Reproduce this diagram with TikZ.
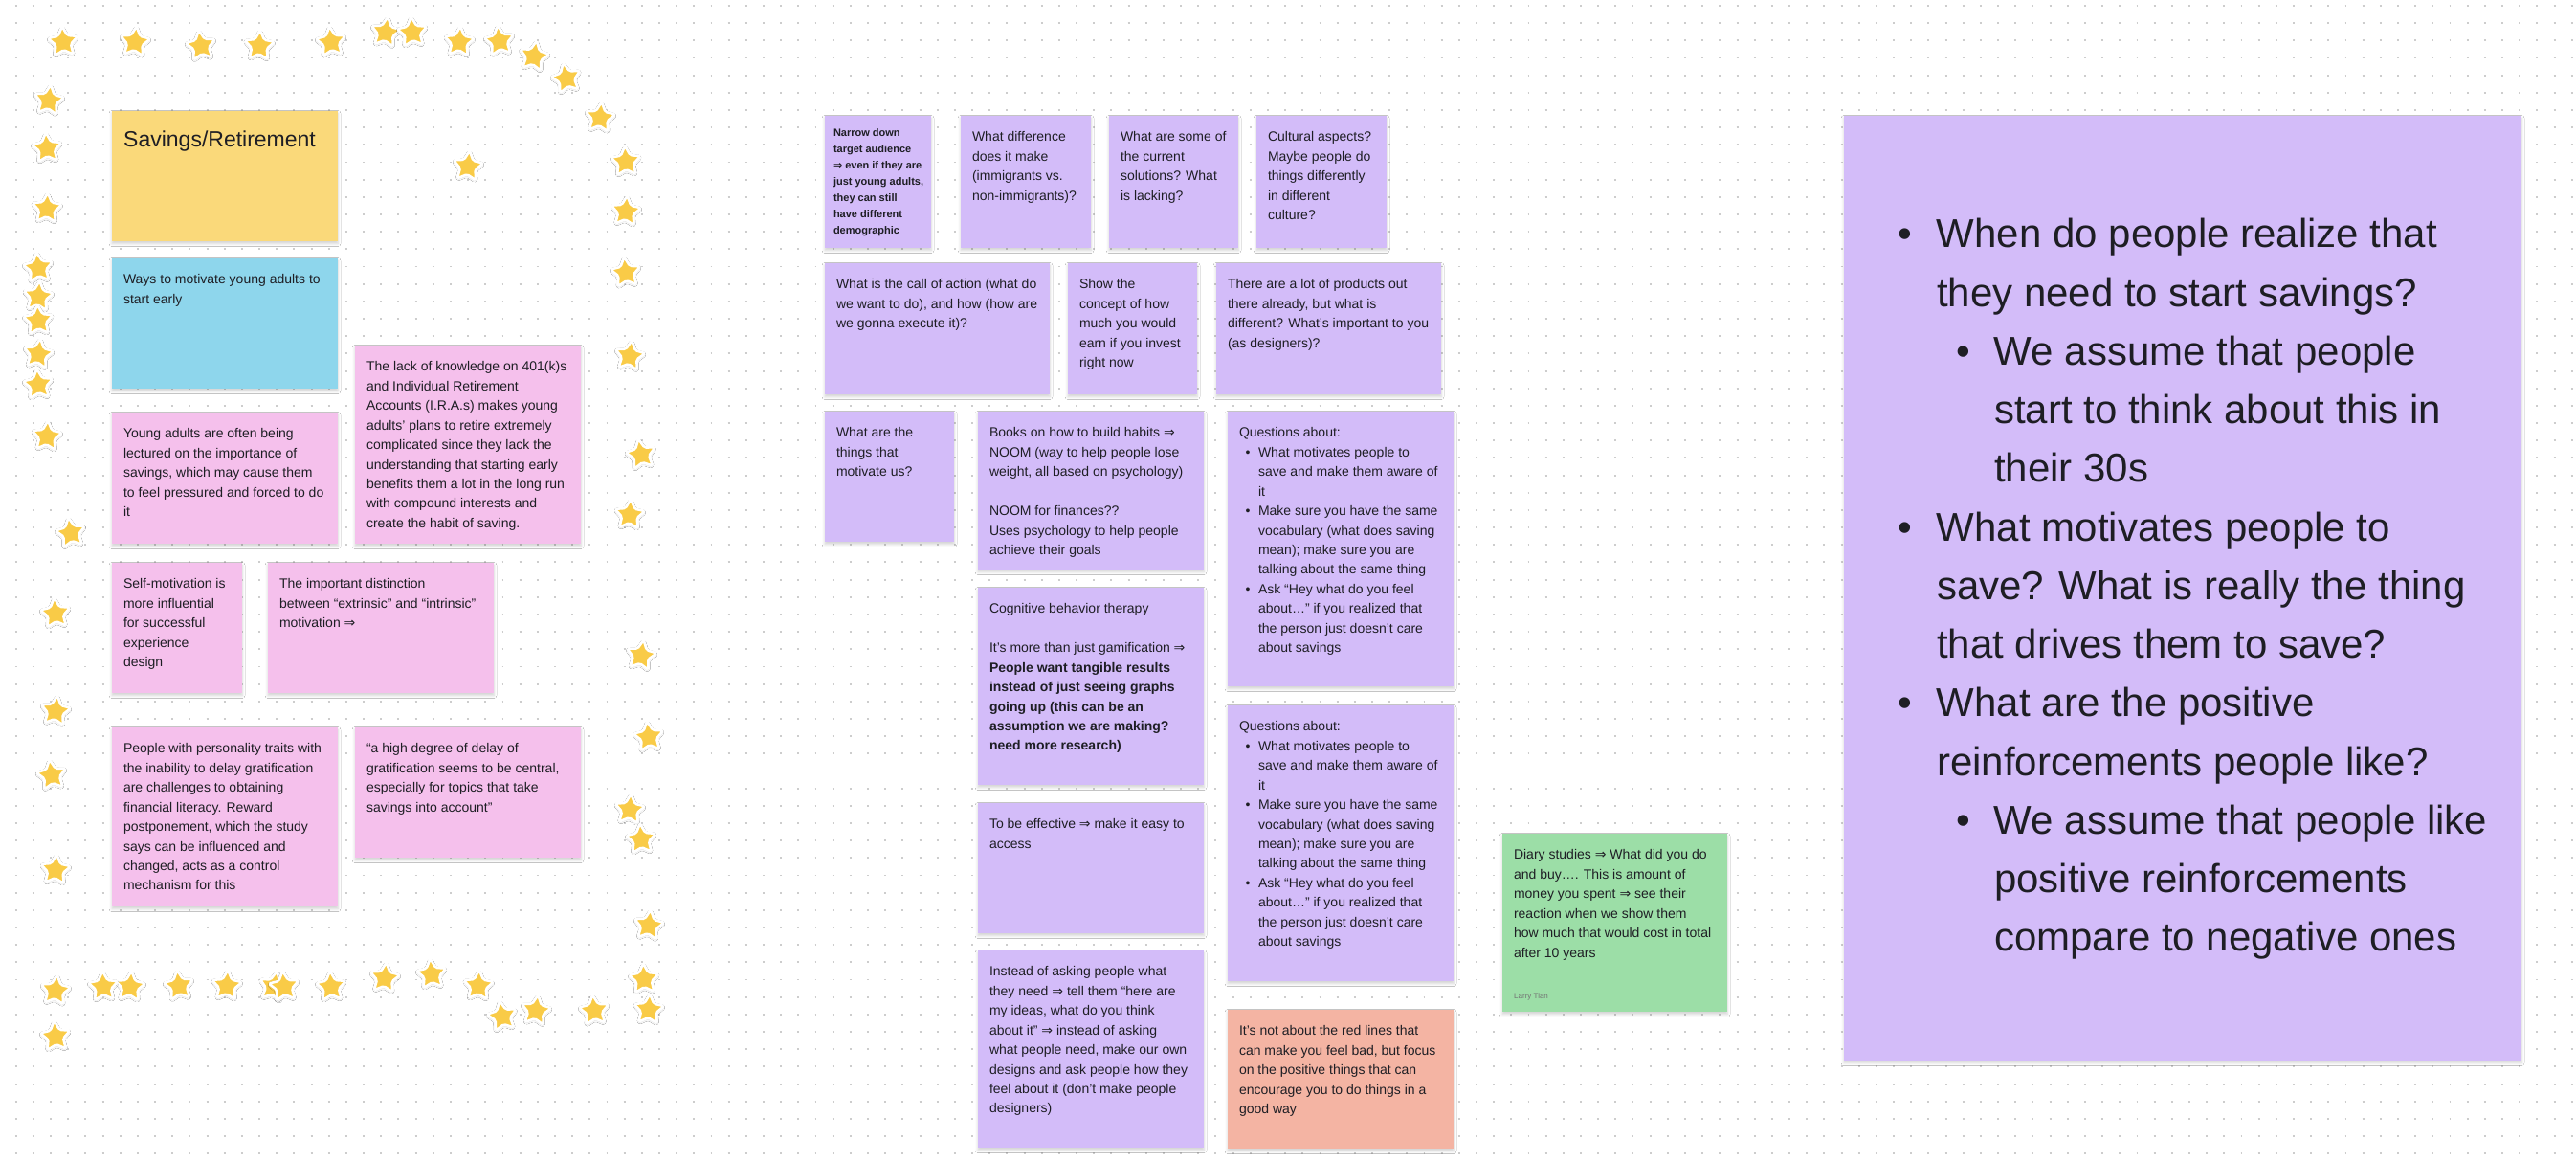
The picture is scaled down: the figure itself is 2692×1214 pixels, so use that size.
\documentclass[tikz,border=0pt]{standalone}
\usepackage{fontspec}
\setmainfont{Liberation Sans}
\newfontfamily\symfont{DejaVu Sans}
\usetikzlibrary{shapes.geometric,shadows.blur}
\definecolor{ink}{HTML}{1E1E24}
\definecolor{noteyellow}{HTML}{FAD97A}
\definecolor{noteblue}{HTML}{8ED6EC}
\definecolor{notepink}{HTML}{F5C0EC}
\definecolor{notepurple}{HTML}{D3BCF9}
\definecolor{notegreen}{HTML}{9CDEA7}
\definecolor{notesalmon}{HTML}{F4B4A3}
\definecolor{stargold}{HTML}{F9CB47}
\definecolor{griddot}{HTML}{CDCDCD}
\newcommand\thenarrow{{\symfont\char"21D2}}
\newcommand\qb{\makebox[20pt][l]{\hspace*{6.5pt}•}}
\newcommand\qc{\hspace*{20pt}}
\newcommand\bigbul{\makebox[97pt][l]{\hspace*{56.6pt}•}}
\newcommand\bigcont{\hspace*{97pt}}
\newcommand\subbul{\makebox[157pt][l]{\hspace*{117.6pt}•}}
\newcommand\subcont{\hspace*{157pt}}
\tikzset{
  notebox/.style={rectangle, inner sep=0pt, outer sep=0pt, anchor=north west,
    blur shadow={shadow xshift=0pt, shadow yshift=-2.5pt, shadow blur radius=3pt, shadow opacity=18}},
  notetext/.style={inner sep=0pt, outer sep=0pt, anchor=north west, align=left, text=ink,
    font=\fontsize{14}{20.45}\selectfont},
  starnode/.style={star, star points=5, star point ratio=2.0, minimum size=33pt, inner sep=0pt,
    fill=stargold, draw=white, line width=2.6pt, rounded corners=1.8pt,
    blur shadow={shadow xshift=0pt, shadow yshift=-1pt, shadow blur radius=2pt, shadow opacity=22}},
}
\newcommand\sticky[6]{\node[notebox, fill=#6, minimum width=#4pt, minimum height=#5pt] (#1) at (#2,#3) {};}
\newcommand\stickytext[2]{\node[notetext] (#1-txt) at ([xshift=12pt,yshift=-12.5pt]#1.north west) {\strut #2};}

\begin{document}
\begin{tikzpicture}[x=1pt,y=-1pt]
\useasboundingbox (0,0) rectangle (2692,1214);
\fill[white] (0,0) rectangle (2692,1214);
% dotted grid
\foreach \k in {0,...,66} {
  \draw[griddot, line width=1.9pt, dash pattern=on 1.9pt off 16.27pt] (15.75,{6+18.17*\k}) -- (2692,{6+18.17*\k});
}

% ---------- stars ----------
\foreach \x/\y/\r [count=\i] in {
 66/44/4, 141/44/-6, 210/48/8, 271/48/-3, 346/44/6, 403/34/-8, 431/34/5, 480/44/-4, 522/43/7,
 558/59/-10, 592/82/12, 627/123/-6, 654/169/3, 654/221/-5, 654/285/6, 658/372/-8, 670/475/10, 658/538/-4,
 51/105/-7, 49/155/4, 49/218/-3, 40/280/6, 40/310/-5, 40/335/3, 40/370/-8, 40/402/5, 49/456/-4, 74/557/9,
 489/174/-6,
 58/641/5, 58/743/-7, 54/810/8, 58/909/-4,
 670/685/-9, 678/770/6, 658/846/-5, 670/877/4, 678/967/-7, 673/1023/3, 678/1055/-4,
 621/1056/6, 560/1056/-8, 525/1062/10, 500/1030/-3, 451/1018/5, 402/1022/-6,
 346/1031/4, 286/1031/-12, 297/1031/6, 237/1030/-4, 187/1030/7, 136/1031/-5, 108/1031/3, 58/1035/-6, 58/1083/5}
{
  \node[starnode, rotate=\r] (star\i) at (\x,\y) {};
}

% ---------- left cluster ----------
\sticky{yellow}{117}{116}{236}{136}{noteyellow}
\node[inner sep=0pt, anchor=north west, text=ink, font=\fontsize{23}{28}\selectfont, align=left]
  (yellow-txt) at ([xshift=12pt,yshift=-17.4pt]yellow.north west) {\strut Savings/Retirement};

\sticky{blue}{117}{270}{236}{136}{noteblue}
\stickytext{blue}{Ways to motivate young adults to\\start early}

\sticky{young}{117}{431}{236}{137}{notepink}
\stickytext{young}{Young adults are often being\\lectured on the importance of\\savings, which may cause them\\to feel pressured and forced to do\\it}

\sticky{lack}{371}{361}{236}{207}{notepink}
\stickytext{lack}{The lack of knowledge on 401(k)s\\and Individual Retirement\\Accounts (I.R.A.s) makes young\\adults' plans to retire extremely\\complicated since they lack the\\understanding that starting early\\benefits them a lot in the long run\\with compound interests and\\create the habit of saving.}

\sticky{selfm}{117}{588}{136}{136}{notepink}
\stickytext{selfm}{Self-motivation is\\more influential\\for successful\\experience\\design}

\sticky{distinct}{280}{588}{236}{136}{notepink}
\stickytext{distinct}{The important distinction\\between “extrinsic” and “intrinsic”\\motivation \thenarrow}

\sticky{people}{117}{760}{236}{187}{notepink}
\stickytext{people}{People with personality traits with\\the inability to delay gratification\\are challenges to obtaining\\financial literacy. Reward\\postponement, which the study\\says can be influenced and\\changed, acts as a control\\mechanism for this}

\sticky{degree}{371}{760}{236}{136}{notepink}
\stickytext{degree}{“a high degree of delay of\\gratification seems to be central,\\especially for topics that take\\savings into account”}

% ---------- middle cluster ----------
\sticky{narrow}{862}{121}{111}{138}{notepurple}
\node[notetext, font=\fontsize{11}{17}\selectfont\bfseries] (narrow-txt) at ([xshift=9pt,yshift=-10.1pt]narrow.north west)
  {\strut Narrow down\\target audience\\\thenarrow{} even if they are\\just young adults,\\they can still\\have different\\demographic};

\sticky{diff}{1004}{121}{136}{138}{notepurple}
\stickytext{diff}{What difference\\does it make\\(immigrants vs.\\non-immigrants)?}

\sticky{some}{1159}{121}{135}{138}{notepurple}
\stickytext{some}{What are some of\\the current\\solutions? What\\is lacking?}

\sticky{cultural}{1313}{121}{136}{138}{notepurple}
\stickytext{cultural}{Cultural aspects?\\Maybe people do\\things differently\\in different\\culture?}

\sticky{callact}{862}{275}{235}{137}{notepurple}
\stickytext{callact}{What is the call of action (what do\\we want to do), and how (how are\\we gonna execute it)?}

\sticky{showc}{1116}{275}{135}{137}{notepurple}
\stickytext{showc}{Show the\\concept of how\\much you would\\earn if you invest\\right now}

\sticky{products}{1271}{275}{235}{137}{notepurple}
\stickytext{products}{There are a lot of products out\\there already, but what is\\different? What’s important to you\\(as designers)?}

\sticky{things}{862}{430}{135}{136}{notepurple}
\stickytext{things}{What are the\\things that\\motivate us?}

\sticky{books}{1022}{430}{236}{165}{notepurple}
\stickytext{books}{Books on how to build habits \thenarrow\\NOOM (way to help people lose\\weight, all based on psychology)\\\mbox{}\\NOOM for finances??\\Uses psychology to help people\\achieve their goals}

\sticky{questa}{1283}{430}{236}{287}{notepurple}
\stickytext{questa}{Questions about:\\\qb What motivates people to\\\qc save and make them aware of\\\qc it\\\qb Make sure you have the same\\\qc vocabulary (what does saving\\\qc mean); make sure you are\\\qc talking about the same thing\\\qb Ask “Hey what do you feel\\\qc about…” if you realized that\\\qc the person just doesn’t care\\\qc about savings}

\sticky{cognitive}{1022}{614}{236}{206}{notepurple}
\stickytext{cognitive}{Cognitive behavior therapy\\\mbox{}\\It’s more than just gamification \thenarrow\\\textbf{People want tangible results}\\\textbf{instead of just seeing graphs}\\\textbf{going up (this can be an}\\\textbf{assumption we are making?}\\\textbf{need more research)}}

\sticky{questb}{1283}{737}{236}{288}{notepurple}
\stickytext{questb}{Questions about:\\\qb What motivates people to\\\qc save and make them aware of\\\qc it\\\qb Make sure you have the same\\\qc vocabulary (what does saving\\\qc mean); make sure you are\\\qc talking about the same thing\\\qb Ask “Hey what do you feel\\\qc about…” if you realized that\\\qc the person just doesn’t care\\\qc about savings}

\sticky{effective}{1022}{839}{236}{136}{notepurple}
\stickytext{effective}{To be effective \thenarrow{} make it easy to\\access}

\sticky{instead}{1022}{993}{236}{206}{notepurple}
\stickytext{instead}{Instead of asking people what\\they need \thenarrow{} tell them “here are\\my ideas, what do you think\\about it” \thenarrow{} instead of asking\\what people need, make our own\\designs and ask people how they\\feel about it (don’t make people\\designers)}

\sticky{redline}{1283}{1055}{236}{145}{notesalmon}
\stickytext{redline}{It’s not about the red lines that\\can make you feel bad, but focus\\on the positive things that can\\encourage you to do things in a\\good way}

\sticky{diary}{1570}{871}{235}{186}{notegreen}
\stickytext{diary}{Diary studies \thenarrow{} What did you do\\and buy…. This is amount of\\money you spent \thenarrow{} see their\\reaction when we show them\\how much that would cost in total\\after 10 years}
\node[inner sep=0pt, anchor=west, text=black!55, font=\fontsize{8}{10}\selectfont] (diary-author) at ([xshift=12pt,yshift=16pt]diary.south west) {Larry Tian};

% ---------- big note ----------
\sticky{big}{1927}{121}{708}{987}{notepurple}
\node[inner sep=0pt, outer sep=0pt, anchor=north west, align=left, text=ink, font=\fontsize{42}{61.25}\selectfont]
  (big-txt) at ([yshift=-95.1pt]big.north west) {\strut
  \bigbul When do people realize that\\
  \bigcont they need to start savings?\\
  \subbul We assume that people\\
  \subcont start to think about this in\\
  \subcont their 30s\\
  \bigbul What motivates people to\\
  \bigcont save? What is really the thing\\
  \bigcont that drives them to save?\\
  \bigbul What are the positive\\
  \bigcont reinforcements people like?\\
  \subbul We assume that people like\\
  \subcont positive reinforcements\\
  \subcont compare to negative ones};
\end{tikzpicture}
\end{document}
